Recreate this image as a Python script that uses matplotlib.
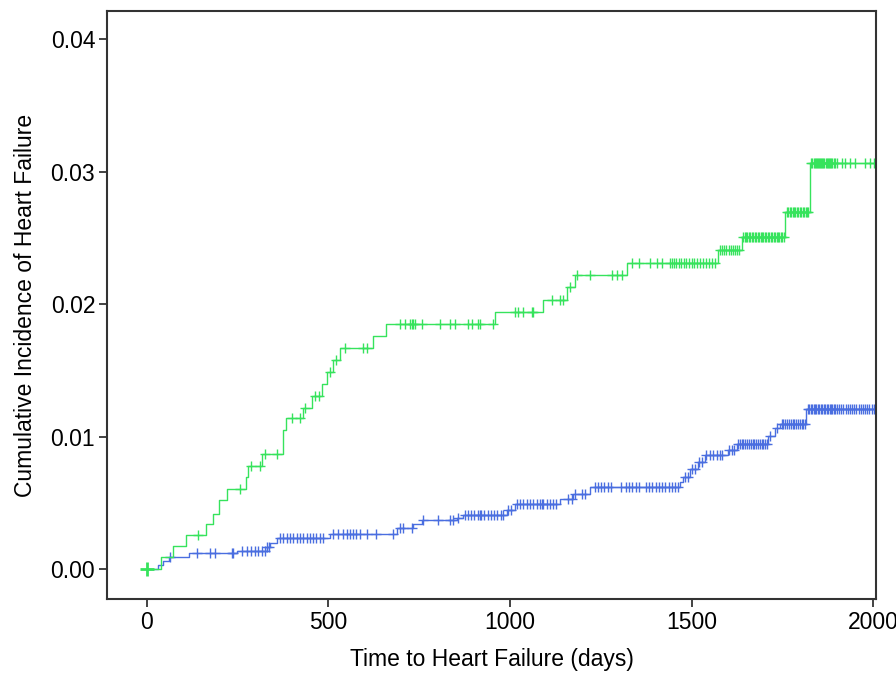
import numpy as np
import matplotlib
matplotlib.use("Agg")
import matplotlib.pyplot as plt

plt.rcParams['font.family'] = ['Liberation Sans', 'DejaVu Sans']

# step curves: event times (days) and cumulative incidence after each event
green_t = [0, 40, 71, 107, 164, 183, 199, 221, 274, 279, 316, 375, 382, 431, 456, 481,
           495, 513, 533, 623, 658, 958, 1090, 1156, 1179, 1321, 1574, 1638, 1758, 1826]
green_y = [0, 0.0009, 0.0018, 0.0026, 0.0034, 0.0042, 0.0052, 0.0061, 0.0070, 0.0078,
           0.0087, 0.0105, 0.0114, 0.0122, 0.0131, 0.0140, 0.0149, 0.0158, 0.0167,
           0.0176, 0.0185, 0.0194, 0.0203, 0.0213, 0.0222, 0.0231, 0.0241, 0.0251,
           0.0270, 0.0307]

blue_t = [0, 31, 45, 60, 117, 247, 330, 340, 357, 504, 688, 733, 757, 853, 871, 991,
          1014, 1138, 1173, 1220, 1468, 1477, 1496, 1518, 1537, 1601, 1624, 1711, 1730,
          1744, 1815]
blue_y = [0, 0.0003, 0.0006, 0.0009, 0.0012, 0.0014, 0.0017, 0.0020, 0.0024, 0.0027,
          0.0031, 0.0034, 0.0037, 0.0039, 0.0041, 0.0045, 0.0049, 0.0053, 0.0057,
          0.0062, 0.0066, 0.0070, 0.0076, 0.0081, 0.0086, 0.0090, 0.0095, 0.0101,
          0.0107, 0.0110, 0.0121]

# censoring times (days)
green_cens = [141, 256, 288, 311, 325, 357, 399, 421, 435, 464, 475, 504, 520, 545, 596,
              605, 697, 710, 724, 729, 733, 738, 757, 807, 835, 848, 885, 894, 912, 917,
              954, 1014, 1023, 1037, 1060, 1064, 1115, 1138, 1147, 1165, 1184, 1220,
              1280, 1294, 1308, 1335, 1354, 1386, 1404, 1418, 1441, 1447, 1452, 1458,
              1466, 1472, 1478, 1486, 1492, 1500, 1508, 1516, 1524, 1532, 1540, 1548,
              1556, 1564, 1578, 1584, 1590, 1596, 1602, 1608, 1614, 1620, 1626, 1632,
              1642, 1646, 1650, 1654, 1658, 1662, 1666, 1670, 1674, 1678, 1682, 1686,
              1690, 1694, 1698, 1702, 1706, 1710, 1714, 1718, 1722, 1726, 1730, 1734,
              1738, 1742, 1746, 1750, 1754, 1762, 1766, 1770, 1774, 1778, 1782, 1786,
              1790, 1794, 1798, 1802, 1806, 1810, 1814, 1818, 1822, 1830, 1833, 1836,
              1839, 1842, 1845, 1848, 1851, 1854, 1857, 1860, 1863, 1866, 1869, 1872,
              1875, 1878, 1881, 1884, 1888, 1892, 1896, 1900, 1914, 1923, 1937, 1950,
              1978, 1992, 2003]

blue_cens = [63, 137, 174, 187, 233, 238, 261, 275, 288, 298, 307, 316, 325, 332, 336,
             366, 376, 385, 394, 403, 413, 422, 431, 440, 449, 458, 467, 476, 485, 513,
             527, 541, 550, 559, 568, 577, 586, 605, 632, 679, 697, 706, 729, 761, 802,
             835, 844, 858, 875, 884, 893, 902, 911, 916, 920, 929, 938, 947, 956, 965,
             974, 981, 995, 1004, 1019, 1028, 1037, 1046, 1055, 1064, 1073, 1082, 1087,
             1092, 1101, 1110, 1119, 1128, 1160, 1170, 1179, 1197, 1206, 1233, 1242,
             1251, 1260, 1269, 1278, 1306, 1319, 1328, 1337, 1346, 1356, 1374, 1383,
             1392, 1401, 1410, 1419, 1428, 1437, 1446, 1455, 1464, 1482, 1490, 1500,
             1509, 1521, 1530, 1541, 1550, 1560, 1569, 1578, 1583, 1604, 1612, 1618,
             1628, 1633, 1638, 1643, 1648, 1653, 1658, 1663, 1668, 1673, 1678, 1683,
             1688, 1693, 1698, 1703, 1708, 1716, 1734, 1748, 1753, 1758, 1763, 1768,
             1773, 1778, 1783, 1788, 1793, 1798, 1803, 1808, 1812, 1820, 1824, 1828,
             1832, 1836, 1840, 1844, 1848, 1852, 1856, 1860, 1864, 1868, 1872, 1876,
             1880, 1884, 1888, 1892, 1896, 1900, 1906, 1912, 1918, 1924, 1930, 1936,
             1942, 1948, 1954, 1960, 1966, 1972, 1978, 1984, 1990, 1996, 2002]

green_col = '#36e35c'
blue_col = '#4a6ee0'


def level_at(times, vals, t):
    idx = np.searchsorted(np.asarray(times), np.asarray(t), side='right') - 1
    return np.asarray(vals)[idx]


fig = plt.figure(figsize=(8.96, 6.75), dpi=100)
ax = fig.add_axes([0.1194, 0.1121, 0.8583, 0.872])

for t, y, cens, col in [(blue_t, blue_y, blue_cens, blue_col),
                        (green_t, green_y, green_cens, green_col)]:
    tt = list(t) + [2010]
    yy = list(y) + [y[-1]]
    ax.step(tt, yy, where='post', color=col, lw=1.0)
    ax.plot(cens, level_at(t, y, cens), ls='none', marker='+', ms=6.5, mew=1.0,
            color=col)

ax.plot([0], [0], ls='none', marker='+', ms=10, mew=2, color=green_col)

ax.set_xlim(-110, 2008)
ax.set_ylim(-0.00226, 0.04216)
ax.set_xticks([0, 500, 1000, 1500, 2000])
ax.set_yticks([0.0, 0.01, 0.02, 0.03, 0.04])
ax.set_yticklabels(['0.00', '0.01', '0.02', '0.03', '0.04'])
ax.tick_params(direction='out', length=5.5, width=1.2, labelsize=16.5, colors='#222222',
               labelcolor='black', pad=3)
for s in ax.spines.values():
    s.set_linewidth(1.5)
    s.set_color('#333333')

ax.set_xlabel('Time to Heart Failure (days)', fontsize=16.5, labelpad=10)
ax.set_ylabel('Cumulative Incidence of Heart Failure', fontsize=16.5, labelpad=10)

fig.savefig('out.png', dpi=100)
